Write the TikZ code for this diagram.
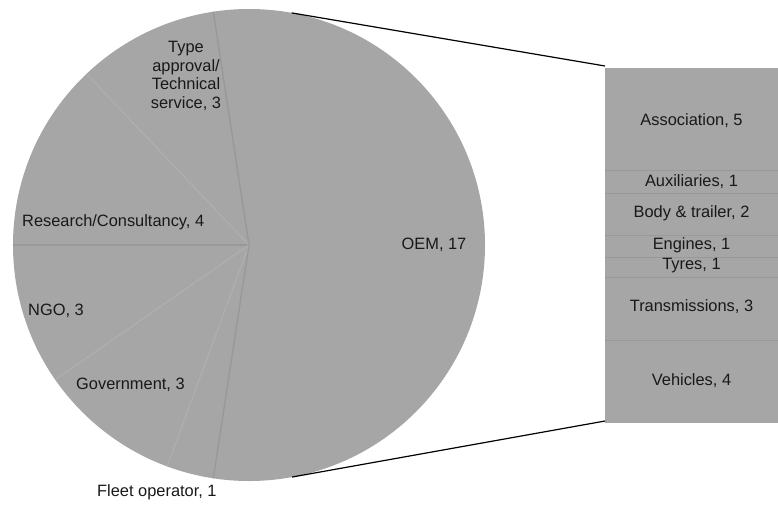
\documentclass[tikz,border=0pt]{standalone}
\usepackage{fontspec}
\setmainfont{Liberation Sans}
\begin{document}
\begin{tikzpicture}[x=1pt,y=-1pt,
  lbl/.style={font=\fontsize{16.4}{18.7}\selectfont, inner sep=0pt, text=black!90},
  dark sep/.style={draw=sepdark, line width=1.4pt},
  light sep/.style={draw=seplight, line width=1.2pt},
  bar sep/.style={draw=sepdark, line width=1pt},
  zoomline/.style={draw=black, line width=1.2pt}]
\useasboundingbox (0,0) rectangle (778,506);
\definecolor{piegray}{HTML}{A6A6A6}
\definecolor{sepdark}{HTML}{999999}
\definecolor{seplight}{HTML}{AFAFAF}

% pie of stakeholder groups (31 in total)
\begin{scope}[shift={(249,245)}, yscale=-1]
  \fill[piegray] (0,0) circle (236);
  \draw[dark sep]  (0,0) -- (98.7:236);
  \draw[light sep] (0,0) -- (133.5:236);
  \draw[dark sep]  (0,0) -- (180:236);
  \draw[light sep] (0,0) -- (214.8:236);
  \draw[light sep] (0,0) -- (249.7:236);
  \draw[dark sep]  (0,0) -- (261.3:236);
  \coordinate (pieTop) at (79.6:236);
  \coordinate (pieBot) at (-79.5:236);
\end{scope}

% breakdown of the OEM slice (17)
\fill[piegray] (605,68) rectangle (778,423);
\foreach \yy in {170,193,235,257,277,340}
  \draw[bar sep] (605,\yy) -- (778,\yy);
\coordinate (barTop) at (605,66);
\coordinate (barBot) at (605,421);

\draw[zoomline] (pieTop) -- (barTop);
\draw[zoomline] (pieBot) -- (barBot);

% pie labels
\node[lbl, align=center] (typ) at (186,76) {Type\\approval/\\Technical\\service, 3};
\node[lbl, anchor=west] (res) at (22,222) {Research/Consultancy, 4};
\node[lbl, anchor=west] (ngo) at (28,311) {NGO, 3};
\node[lbl, anchor=west] (gov) at (76,385) {Government, 3};
\node[lbl, anchor=west] (flt) at (97,492) {Fleet operator, 1};
\node[lbl] (oem) at (434,245) {OEM, 17};

% bar labels
\node[lbl] (ass) at (691.5,121) {Association, 5};
\node[lbl] (aux) at (691.5,182) {Auxiliaries, 1};
\node[lbl] (bod) at (691.5,213) {Body \& trailer, 2};
\node[lbl] (eng) at (691.5,245) {Engines, 1};
\node[lbl] (tyr) at (691.5,266) {Tyres, 1};
\node[lbl] (tra) at (691.5,307) {Transmissions, 3};
\node[lbl] (veh) at (691.5,381) {Vehicles, 4};
\end{tikzpicture}
\end{document}
